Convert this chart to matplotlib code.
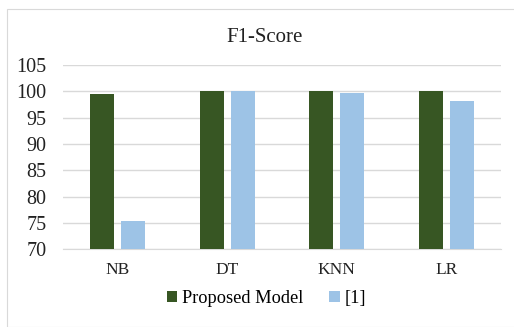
import matplotlib
matplotlib.use('Agg')
import matplotlib.pyplot as plt
import numpy as np
from matplotlib.patches import Rectangle

# F1-score per classifier
classifiers = ['NB', 'DT', 'KNN', 'LR']
proposed = [99.5, 100, 100, 100]
ref1 = [75.3, 100, 99.7, 98.1]

plt.rcParams['font.family'] = ['Liberation Serif', 'DejaVu Serif']

fig = plt.figure(figsize=(5.14, 3.27), dpi=100)
ax = fig.add_axes([63 / 514, 77.7 / 327, 438 / 514, 184.3 / 327])

# thin frame around the chart area
fig.patches.append(Rectangle((7 / 514, 0), 1, 318 / 327, transform=fig.transFigure,
                             fill=False, edgecolor='#d9d9d9', linewidth=0.8))

x = np.arange(len(classifiers))
w = 0.22
off = 0.142
ax.bar(x - off, proposed, w, color='#375623', label='Proposed Model', zorder=3)
ax.bar(x + off, ref1, w, color='#9dc3e6', label='[1]', zorder=3)

ax.set_xlim(-0.5, len(classifiers) - 0.5)
ax.set_ylim(70, 105)
ax.set_yticks(range(70, 106, 5))
ax.yaxis.grid(True, color='#d9d9d9', linewidth=1)
ax.set_axisbelow(True)
for s in ['top', 'right', 'left']:
    ax.spines[s].set_visible(False)
ax.spines['bottom'].set_color('#d9d9d9')
ax.tick_params(axis='both', length=0, colors='#222222')
ax.tick_params(axis='x', pad=9, labelsize=12.5)
ax.tick_params(axis='y', pad=12, labelsize=14.5)
ax.set_xticks(x)
ax.set_xticklabels(classifiers)

fig.text(0.515, 1 - 37 / 327, 'F1-Score', ha='center', va='center', fontsize=15, color='#222222')

ax.legend(loc='center', bbox_to_anchor=(0.465, -0.265), ncol=2, frameon=False,
          fontsize=13.2, handlelength=0.55, handleheight=0.55, handletextpad=0.3,
          columnspacing=1.4)

fig.savefig('out.png', dpi=100, facecolor='white')
